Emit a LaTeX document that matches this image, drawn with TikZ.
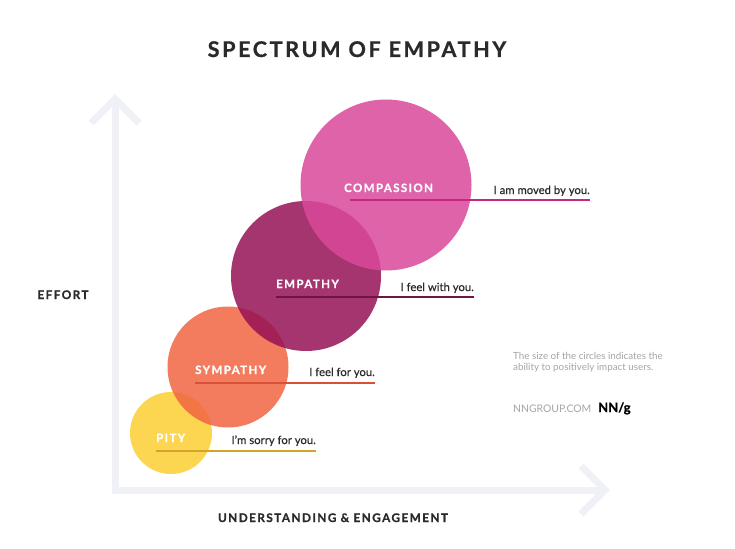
\documentclass[tikz,border=0pt]{standalone}
\usepackage{fontspec}
\setmainfont{Lato}[FakeBold=0.35]
\newfontfamily\spaced{Lato}[LetterSpace=12,BoldFeatures={FakeBold=0.8}]
\newfontfamily\plain{Lato}
\usetikzlibrary{calc}
\definecolor{axisgray}{HTML}{F0F1F7}
\definecolor{notegray}{HTML}{A5A5A8}
\definecolor{inkdark}{HTML}{2A2A2A}
\definecolor{pityfill}{HTML}{FDCF33}
\definecolor{sympfill}{HTML}{F26542}
\definecolor{empfill}{HTML}{961256}
\definecolor{compfill}{HTML}{D9489A}
\definecolor{pityline}{HTML}{D4A32B}
\definecolor{sympline}{HTML}{D85038}
\definecolor{empline}{HTML}{6E1545}
\definecolor{compline}{HTML}{C8277F}

\begin{document}
\begin{tikzpicture}[x=1pt,y=-1pt,
    bubble/.style={circle,inner sep=0pt,fill opacity=0.85},
    rule/.style={line width=2.4pt},
    stage/.style={anchor=base west,inner sep=0pt,text=white,font=\spaced\bfseries\fontsize{11.5}{12}\selectfont},
    saying/.style={anchor=base east,inner sep=0pt,text=inkdark,font=\fontsize{11.3}{12}\selectfont},
    axislabel/.style={inner sep=0pt,anchor=base,text=inkdark,font=\spaced\bfseries\fontsize{11.8}{12}\selectfont}]
\useasboundingbox[fill=white] (0,0) rectangle (735,548);
\coordinate (origin) at (115,490);
\coordinate (ytip) at (115,99);
\coordinate (xtip) at (605,490);
\draw[axisgray,line width=7pt,miter limit=10] (ytip) -- (origin) -- (xtip);
\draw[axisgray,line width=7pt,miter limit=10] ($(ytip)+(-24,24)$) -- (ytip) -- ($(ytip)+(24,24)$);
\draw[axisgray,line width=7pt,miter limit=10] ($(xtip)+(-24,-24)$) -- (xtip) -- ($(xtip)+(-24,24)$);
\node[bubble,fill=pityfill,minimum size=82pt] (pitycirc) at (171,433) {};
\node[bubble,fill=sympfill,minimum size=121pt] (sympcirc) at (228,367) {};
\node[bubble,fill=empfill,minimum size=150pt] (empcirc) at (306,276) {};
\node[bubble,fill=compfill,minimum size=171pt] (compcirc) at (386,185) {};
\node[stage] (pity) at (156,442) {PITY};
\node[stage] (symp) at (195,374) {SYMPATHY};
\node[stage] (emp) at (276,288) {EMPATHY};
\node[stage] (comp) at (344,192) {COMPASSION};
\node[saying] (pitysay) at (316,444) {I’m sorry for you.};
\node[saying] (sympsay) at (375,376) {I feel for you.};
\node[saying] (empsay) at (474,291) {I feel with you.};
\node[saying] (compsay) at (590,194) {I am moved by you.};
\draw[rule,pityline] (pity.west |- 0,451) -- (pitysay.east |- 0,451);
\draw[rule,sympline] (symp.west |- 0,383) -- (sympsay.east |- 0,383);
\draw[rule,empline] (emp.west |- 0,297) -- (empsay.east |- 0,297);
\draw[rule,compline] (350,200) -- (compsay.east |- 0,200);
\node[axislabel,font=\spaced\bfseries\fontsize{21.6}{24}\selectfont] (title) at (357,57) {SPECTRUM OF EMPATHY};
\node[axislabel] (effort) at (63,299) {EFFORT};
\node[axislabel] (xlabel) at (333,522) {UNDERSTANDING \& ENGAGEMENT};
\node[anchor=base west,inner sep=0pt,text=notegray,align=left,font=\plain\fontsize{9.8}{11}\selectfont] (note) at (513,370) {The size of the circles indicates the\\ability to positively impact users.};
\node[anchor=base west,inner sep=0pt,text=notegray,font=\plain\fontsize{10.4}{12}\selectfont] (site) at (513,412) {NNGROUP.COM};
\node[anchor=base west,inner sep=0pt,text=black,font=\spaced\bfseries\fontsize{13}{14}\selectfont] (logo) at (598,412) {\addfontfeature{LetterSpace=0}NN/g};
\end{tikzpicture}
\end{document}
